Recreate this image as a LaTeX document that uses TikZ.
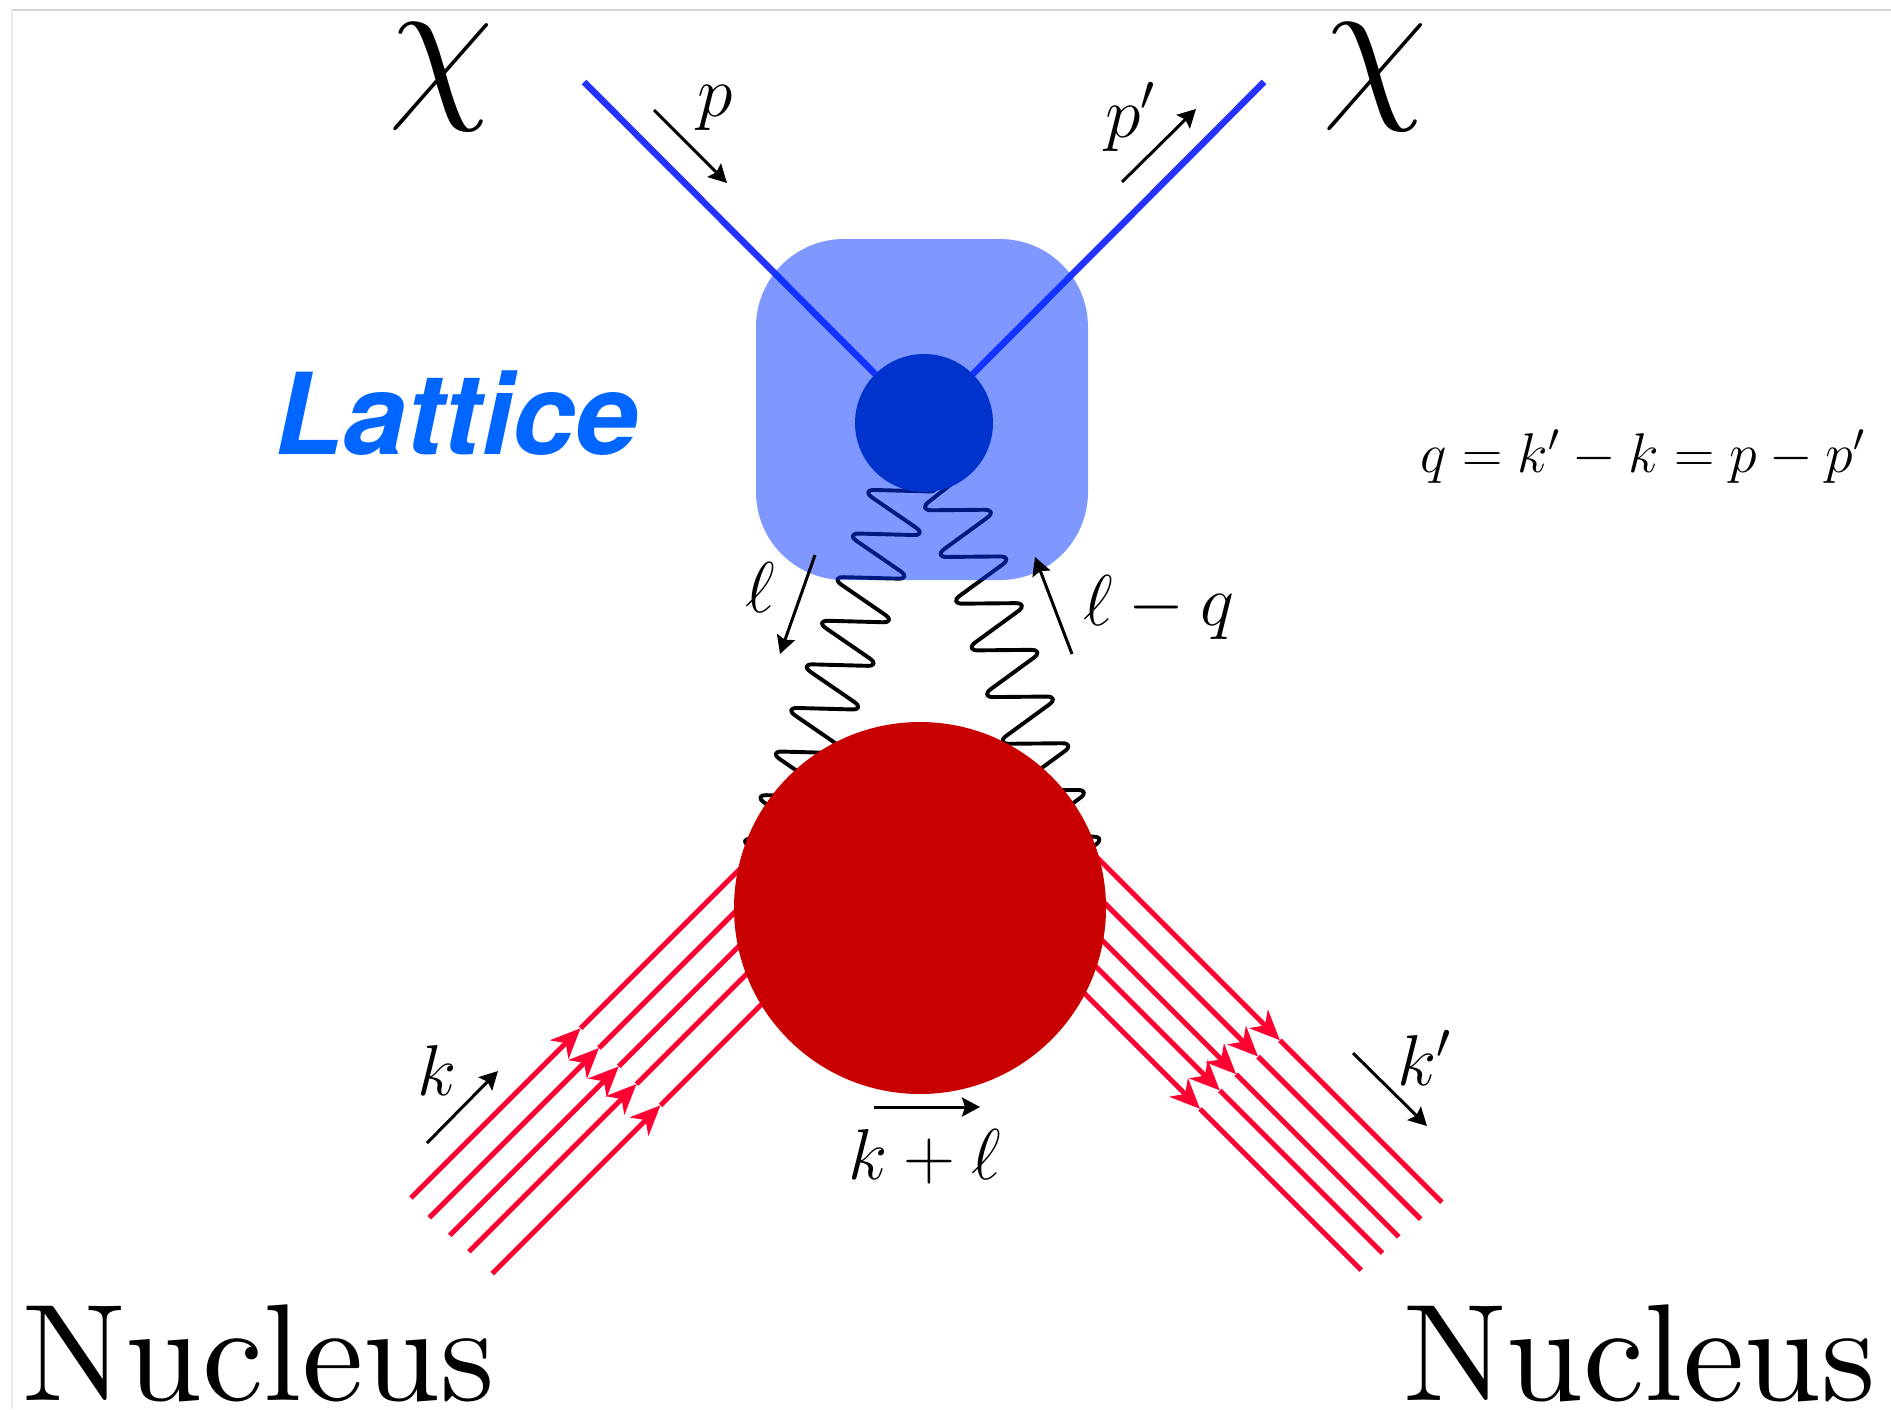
\RequirePackage{fix-cm}
\documentclass[tikz,border=0pt]{standalone}
\usepackage{fontspec}
\newfontfamily\herosfont{TeX Gyre Heros}
\newfontfamily\lmten{lmroman10-regular.otf}
\usetikzlibrary{arrows.meta}
\definecolor{chiblue}{RGB}{38,50,255}
\definecolor{latblue}{RGB}{0,51,255}
\definecolor{vtxblue}{RGB}{0,51,204}
\definecolor{nucred}{RGB}{200,0,0}
\definecolor{linered}{RGB}{255,0,51}
\definecolor{labblue}{RGB}{0,102,255}
\definecolor{framegray}{RGB}{212,212,212}
\definecolor{framegray2}{RGB}{234,234,234}
\begin{document}
\begin{tikzpicture}[x=1pt,y=-1pt,
  chiline/.style={line width=6.5pt, draw=chiblue},
  photon/.style={line width=3.9pt, draw=black, rounded corners=14pt, line join=round},
  nucl/.style={line width=5pt, draw=linered},
  nuclhead/.style={-{Stealth[length=30pt,width=26pt,inset=9pt]}},
  mom/.style={line width=3pt, draw=black, -{Stealth[length=18pt,width=19pt,inset=3pt]}},
  lab/.style={inner sep=0pt, font=\fontsize{72}{80}\selectfont},
  eqlab/.style={inner sep=0pt, font=\fontsize{56}{60}\selectfont},
  chilab/.style={inner sep=0pt, font=\fontsize{172}{172}\selectfont},
  nuclab/.style={inner sep=0pt, font=\lmten\fontsize{138}{142}\selectfont},
  latlab/.style={inner sep=0pt, text=labblue, font=\herosfont\bfseries\itshape\fontsize{113}{118}\selectfont},
]
\useasboundingbox (0,0) rectangle (1891,1409);
\fill[white] (0,0) rectangle (1891,1409);
% frame
\coordinate (f0) at (12,10);
\coordinate (f1) at (1891,10);
\coordinate (f2) at (12,1409);
\draw[framegray2, line width=1.6pt] (f0) -- (f2);
\draw[framegray, line width=2.2pt] (f0) -- (f1);

% vertices
\coordinate (vc) at (924,423);
\coordinate (bc) at (920,908);

% chi lines
\coordinate (chiA) at (584,82);
\coordinate (chiB) at (1264,82);
\draw[chiline] (chiA) -- (vc);
\draw[chiline] (chiB) -- (vc);

% photons
\draw[photon] (883.4,448.4) -- (942.7,491.8) -- (860.7,489.6) -- (927.3,535.4)
  -- (845.3,533.2) -- (911.9,579.0) -- (829.9,576.8) -- (896.5,622.6)
  -- (814.5,620.4) -- (881.1,666.2) -- (799.1,664.0) -- (865.7,709.8)
  -- (783.7,707.6) -- (850.3,753.4) -- (768.3,751.2) -- (834.9,797.0)
  -- (752.9,794.8) -- (819.5,840.6) -- (737.5,838.4) -- (804.1,884.2);
\draw[photon] (975.5,465.3) -- (917.7,510.4) -- (998.3,509.6) -- (933.2,557.1)
  -- (1013.8,556.3) -- (948.7,603.8) -- (1029.3,603.0) -- (964.2,650.5)
  -- (1044.8,649.7) -- (979.7,697.2) -- (1060.3,696.4) -- (995.2,743.9)
  -- (1075.8,743.1) -- (1010.7,790.6) -- (1091.3,789.8) -- (1026.2,837.3)
  -- (1106.8,836.5) -- (1041.7,884.0);

% lattice box and vertex
\node[rectangle, rounded corners=88pt, fill=latblue, fill opacity=0.5,
      minimum width=332pt, minimum height=341pt, inner sep=0pt] (box) at (922,409.5) {};
\node[circle, fill=vtxblue, minimum size=138pt, inner sep=0pt] (vtx) at (vc) {};

% nucleon lines
\foreach \d/\s/\t [count=\i] in {-155/-565/-325, -128/-566/-326, -101/-564/-325, -76/-562/-325, -44/-561/-323} {
  \coordinate (la\i) at ({920+(\s+\d)*0.70711}, {908+(\d-\s)*0.70711});
  \coordinate (lt\i) at ({920+(\t+\d)*0.70711}, {908+(\d-\t)*0.70711});
  \coordinate (le\i) at ({920+\d*0.70711}, {908+\d*0.70711});
  \draw[nucl, nuclhead] (la\i) -- (lt\i);
  \draw[nucl] (lt\i) -- (le\i);
}
\foreach \d/\s/\t [count=\i] in {161/577/348, 134/574/344, 106/571/341, 83/571/341, 56/568/340} {
  \coordinate (rs\i) at ({920+\d*0.70711}, {908-\d*0.70711});
  \coordinate (rt\i) at ({920+(\t+\d)*0.70711}, {908+(\t-\d)*0.70711});
  \coordinate (re\i) at ({920+(\s+\d)*0.70711}, {908+(\s-\d)*0.70711});
  \draw[nucl, nuclhead] (rs\i) -- (rt\i);
  \draw[nucl] (rt\i) -- (re\i);
}

% nucleus blob
\node[circle, fill=nucred, minimum size=372pt, inner sep=0pt] (blob) at (bc) {};

% momentum arrows
\coordinate (pa) at (654,110);   \coordinate (pb) at (727,183);
\coordinate (ppa) at (1122,182); \coordinate (ppb) at (1196,109);
\coordinate (la) at (815,555);   \coordinate (lb) at (780,654);
\coordinate (lqa) at (1072,654); \coordinate (lqb) at (1035,557);
\coordinate (ka) at (427,1143);  \coordinate (kb) at (498,1071);
\coordinate (kpa) at (1353,1053); \coordinate (kpb) at (1427,1126);
\coordinate (kla) at (874,1107); \coordinate (klb) at (980,1107);
\draw[mom] (pa) -- (pb);
\draw[mom] (ppa) -- (ppb);
\draw[mom] (la) -- (lb);
\draw[mom] (lqa) -- (lqb);
\draw[mom] (ka) -- (kb);
\draw[mom] (kpa) -- (kpb);
\draw[mom] (kla) -- (klb);

% labels
\node[lab, anchor=base west] (tp) at (697,116) {$p$};
\node[lab, anchor=base west] (tpp) at (1105,137) {$p'$};
\node[lab, anchor=base west] (tl) at (745,612) {$\ell$};
\node[lab, anchor=base west] (tlq) at (1083,625) {$\ell - q$};
\node[lab, anchor=base west] (tk) at (417,1095) {$k$};
\node[lab, anchor=base west] (tkp) at (1397,1085) {$k'$};
\node[lab, anchor=base west] (tkl) at (848,1179) {$k + \ell$};
\node[eqlab, anchor=base west] (teq) at (1420,472) {$q = k' - k = p - p'$};
\node[chilab, anchor=base] (chiL) at (441,97) {$\chi$};
\node[chilab, anchor=base] (chiR) at (1375,97) {$\chi$};
\node[latlab, anchor=base west] (tlat) at (274,454) {Lattice};
\node[nuclab, anchor=base west] (nucL) at (22,1400) {Nucleus};
\node[nuclab, anchor=base west] (nucR) at (1403,1400) {Nucleus};
\end{tikzpicture}
\end{document}
